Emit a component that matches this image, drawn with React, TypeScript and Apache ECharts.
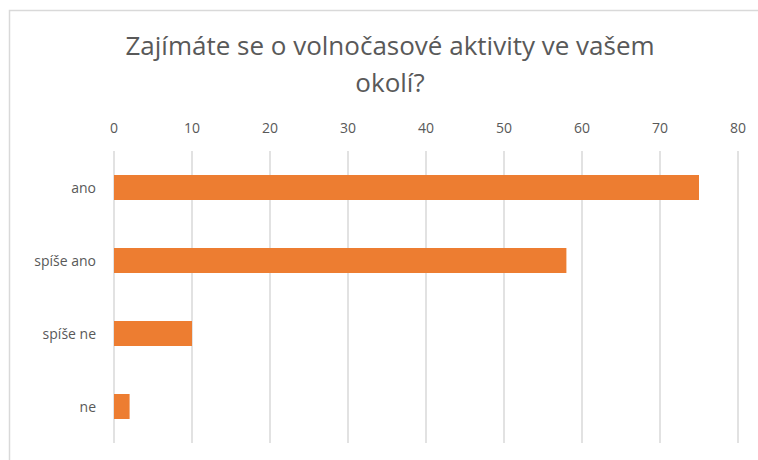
import React, { useEffect, useRef } from "react";
import * as echarts from "echarts";

const categories = ["ano", "spíše ano", "spíše ne", "ne"];
const values = [75, 58, 10, 2];
const titleText = "Zajímáte se o volnočasové aktivity ve vašem\nokolí?";

export default function App() {
  const ref = useRef<HTMLDivElement>(null);
  useEffect(() => {
    const chart = echarts.init(ref.current!, null, { renderer: "svg" });
    chart.setOption({
      animation: false,
      backgroundColor: "#ffffff",
      title: {
        text: titleText,
        left: 385,
        textAlign: "center",
        top: 21,
        textStyle: {
          fontFamily: "Open Sans",
          fontSize: 26,
          fontWeight: "normal",
          color: "#595959",
          lineHeight: 37,
        },
      },
      graphic: [
        {
          type: "rect",
          shape: { x: 9.5, y: 10.5, width: 800, height: 500 },
          style: { fill: "none", stroke: "#d9d9d9", lineWidth: 1.5 },
          silent: true,
        },
      ],
      grid: { left: 114, right: 20, top: 151, bottom: 17 },
      xAxis: {
        type: "value",
        position: "top",
        min: 0,
        max: 80,
        interval: 10,
        axisLine: { show: false },
        axisTick: { show: false },
        axisLabel: {
          margin: 17,
          fontFamily: "Open Sans",
          fontSize: 14,
          color: "#595959",
        },
        splitLine: { show: true, lineStyle: { color: "#d9d9d9", width: 1.5 } },
      },
      yAxis: {
        type: "category",
        data: categories,
        inverse: true,
        axisLine: { show: false },
        axisTick: { show: false },
        axisLabel: {
          margin: 18,
          fontFamily: "Open Sans",
          fontSize: 14,
          color: "#595959",
        },
      },
      series: [
        {
          type: "bar",
          data: values,
          barWidth: "34%",
          itemStyle: { color: "#ed7d31" },
        },
      ],
    });
    return () => chart.dispose();
  }, []);
  return (
    <div
      ref={ref}
      style={{ position: "fixed", left: 0, top: 0, width: 758, height: 460 }}
    />
  );
}
